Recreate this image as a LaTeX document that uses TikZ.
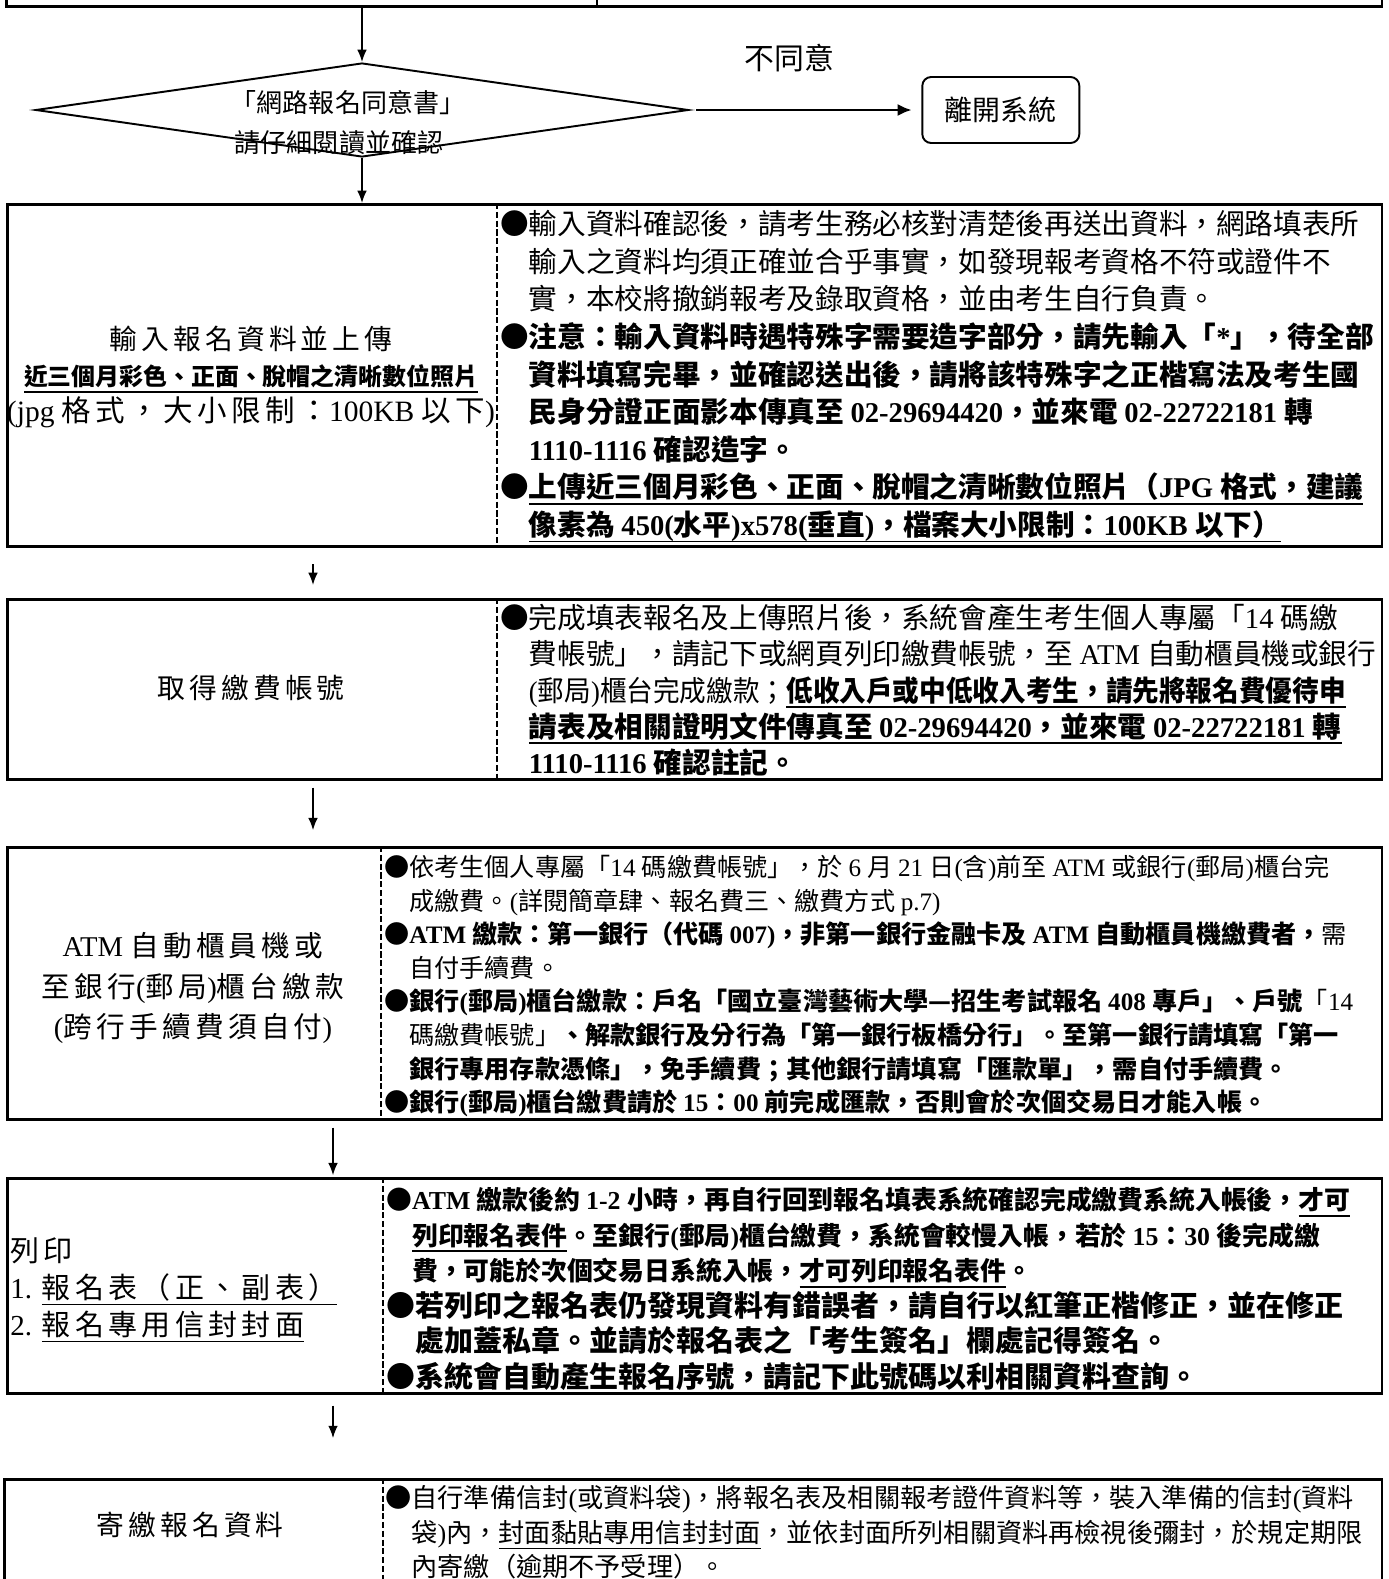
\documentclass[tikz,border=0pt]{standalone}
\usepackage{fontspec}
\usepackage{graphicx}
\setmainfont{Liberation Serif}
\newfontfamily\cjkplain{Noto Sans CJK TC}
\newfontfamily\cjkspaced[LetterSpace=15]{Noto Sans CJK TC}
\let\cjkfam\cjkplain
\usetikzlibrary{arrows.meta,positioning,shapes.geometric}
\newcount\cjkidx
\cjkidx="4E00
\loop\ifnum\cjkidx<"A000 \XeTeXcharclass\cjkidx=1 \advance\cjkidx by 1 \repeat
\cjkidx="3000
\loop\ifnum\cjkidx<"3040 \XeTeXcharclass\cjkidx=1 \advance\cjkidx by 1 \repeat
\cjkidx="FF00
\loop\ifnum\cjkidx<"FFF0 \XeTeXcharclass\cjkidx=1 \advance\cjkidx by 1 \repeat
\XeTeXcharclass"25CF=1
\XeTeXcharclass"2014=1
\XeTeXinterchartoks 0 1 = {\cjkfam}
\XeTeXinterchartoks 4095 1 = {\cjkfam}
\XeTeXinterchartoks 1 1 = {\cjkfam}
\XeTeXinterchartoks 1 0 = {\rmfamily}
\XeTeXinterchartoks 4095 0 = {\rmfamily}
\XeTeXinterchartokenstate=1
\newsavebox\ulbx
\newcommand\undl[2][1.1pt]{\sbox\ulbx{#2}\rlap{\rule[-4pt]{\wd\ulbx}{#1}}\usebox\ulbx}
\newcommand\fsz[2]{\fontsize{#1pt}{#2pt}\selectfont}

\begin{document}
\begin{tikzpicture}[x=0.02cm,y=-0.02cm,>={Latex[length=7pt,width=5.5pt]},
  box/.style={draw,line width=1.5pt,inner sep=0pt,anchor=north west,minimum width=27.5cm},
  divider/.style={line width=0.6pt,dash pattern=on 3.5pt off 1.5pt},
  flow/.style={->,line width=0.9pt},
  bigflow/.style={->,line width=1.6pt,>={Latex[length=8pt,width=7pt]}},
  decide/.style={diamond,draw,line width=1.1pt,minimum width=13.06cm,minimum height=1.88cm,inner sep=0pt,shape aspect=7},
  endbox/.style={draw,rounded corners=5pt,line width=1.1pt,minimum width=3.14cm,minimum height=1.32cm,font=\fsz{15.9}{20}},
  note/.style={anchor=north west,align=left,inner sep=0pt},
  lbl/.style={align=center,inner sep=0pt,font=\let\cjkfam\cjkspaced\fsz{15.8}{20.7}}]
  \useasboundingbox (0,0) rectangle (1389,1579);
  \clip (0,0) rectangle (1389,1579);
  \coordinate (ax) at (313,0);
  \coordinate (bx) at (333,0);

  \node[box,anchor=south west,minimum width=27.52cm,minimum height=2cm] (apply) at (5,8) {};
  \draw[line width=0.6pt] (597,-100) -- (597,8);

  \node[decide] (agree) at (362,110) {};
  \node[font=\fsz{14.8}{20},inner sep=0pt] (agreeA) at (348,103) {「網路報名同意書」};
  \node[font=\fsz{14.8}{20},inner sep=0pt] (agreeB) at (339,143) {請仔細閱讀並確認};
  \node[endbox,right=4.64cm of agree] (exit) {離開系統};
  \draw[flow] (apply.south -| agree.north) -- (agree.north);
  \draw[bigflow,shorten <=4pt,shorten >=5.5pt] (agree) -- node[pos=0.43,above=0.62cm,font=\fsz{17}{20}] (refuse) {不同意} (exit);

  \node[box,minimum height=6.84cm] (inb) at (6,203) {};
  \draw[flow] (agree.south) -- (inb.north -| agree.south);
  \draw[divider] (497,203) -- (497,545);
  \node[lbl] (inbL) at (251,377) {輸入報名資料並上傳\\{\let\cjkfam\cjkplain\bfseries\fsz{13.6}{20.7}\undl{近三個月彩色、正面、脫帽之清晰數位照片}}\\{\fsz{16.8}{20.7}(jpg 格式，大小限制：100KB 以下)}};
  \node[note,font=\fsz{16.3}{21.4}] (inbR) at (500,210) {●輸入資料確認後，請考生務必核對清楚後再送出資料，網路填表所\\
    \quad 輸入之資料均須正確並合乎事實，如發現報考資格不符或證件不\\
    \quad 實，本校將撤銷報考及錄取資格，並由考生自行負責。\\
    ●\textbf{注意：輸入資料時遇特殊字需要造字部分，請先輸入「*」，待全部}\\
    \quad\textbf{資料填寫完畢，並確認送出後，請將該特殊字之正楷寫法及考生國}\\
    \quad\textbf{民身分證正面影本傳真至 02-29694420，並來電 02-22722181 轉}\\
    \quad\textbf{1110-1116 確認造字。}\\
    ●\undl{\textbf{上傳近三個月彩色、正面、脫帽之清晰數位照片（JPG 格式，建議}}\\
    \quad\undl{\textbf{像素為 450(水平)x578(垂直)，檔案大小限制：100KB 以下）}}};

  \node[box,minimum height=3.6cm] (fee) at (6,598) {};
  \draw[flow,shorten <=9.5pt,shorten >=7.4pt] (inb.south -| ax) -- (fee.north -| ax);
  \draw[divider] (497,598) -- (497,778);
  \node[lbl] (feeL) at (251,688) {取得繳費帳號};
  \node[note,font=\fsz{16.3}{20.6}] (feeR) at (500,604) {●完成填表報名及上傳照片後，系統會產生考生個人專屬「14 碼繳\\
    \quad 費帳號」，請記下或網頁列印繳費帳號，至 ATM 自動櫃員機或銀行\\
    \quad\scalebox{0.93}[1]{(郵局)櫃台完成繳款；\undl{\textbf{低收入戶或中低收入考生，請先將報名費優待申}}}\\
    \quad\undl{\textbf{請表及相關證明文件傳真至 02-29694420，並來電 02-22722181 轉}}\\
    \quad\undl{\textbf{1110-1116 確認註記。}}};

  \node[box,minimum height=5.44cm] (pay) at (6,846) {};
  \draw[flow,shorten <=4pt,shorten >=9pt] (fee.south -| ax) -- (pay.north -| ax);
  \draw[divider] (381,846) -- (381,1118);
  \node[lbl,font=\let\cjkfam\cjkspaced\fsz{16.3}{23.2}] (payL) at (193,988) {ATM 自動櫃員機或\\至銀行(郵局)櫃台繳款\\(跨行手續費須自付)};
  \node[note,font=\fsz{14.3}{19.1}] (payR) at (384,855) {●依考生個人專屬「14 碼繳費帳號」，於 6 月 21 日(含)前至 ATM 或銀行(郵局)櫃台完\\
    \quad 成繳費。(詳閱簡章肆、報名費三、繳費方式 p.7)\\
    ●\textbf{ATM 繳款：第一銀行（代碼 007)，非第一銀行金融卡及 ATM 自動櫃員機繳費者，}需\\
    \quad 自付手續費。\\
    ●\textbf{銀行(郵局)櫃台繳款：戶名「國立臺灣藝術大學—招生考試報名 408 專戶」、戶號}「14\\
    \quad 碼繳費帳號」\textbf{、解款銀行及分行為「第一銀行板橋分行」。至第一銀行請填寫「第一}\\
    \quad\textbf{銀行專用存款憑條」，免手續費；其他銀行請填寫「匯款單」，需自付手續費。}\\
    ●\textbf{銀行(郵局)櫃台繳費請於 15：00 前完成匯款，否則會於次個交易日才能入帳。}};

  \node[box,minimum height=4.3cm] (print) at (6,1177) {};
  \draw[flow,shorten <=4pt,shorten >=1pt] (pay.south -| bx) -- (print.north -| bx);
  \draw[divider] (383,1177) -- (383,1392);
  \node[lbl,anchor=west,align=left,font=\let\cjkfam\cjkspaced\fsz{16.5}{21}] (printL) at (10,1290) {列印\\1. \undl[0.7pt]{報名表（正、副表）}\\2. \undl[0.7pt]{報名專用信封封面}};
  \node[note,font=\fsz{14.7}{20.1}] (printA) at (386,1187) {●\textbf{ATM 繳款後約 1-2 小時，再自行回到報名填表系統確認完成繳費系統入帳後，}\undl{\textbf{才可}}\\
    \quad\undl{\textbf{列印報名表件}}\textbf{。至銀行(郵局)櫃台繳費，系統會較慢入帳，若於 15：30 後完成繳}\\
    \quad\textbf{費，可能於次個交易日系統入帳，}\undl{\textbf{才可列印報名表件}}\textbf{。}};
  \node[note,font=\fsz{16.5}{20.1}] (printB) at (386,1291) {●\textbf{若列印之報名表仍發現資料有錯誤者，請自行以紅筆正楷修正，並在修正}\\
    \quad\textbf{處加蓋私章。並請於報名表之「考生簽名」欄處記得簽名。}\\
    ●\textbf{系統會自動產生報名序號，請記下此號碼以利相關資料查詢。}};

  \node[box,minimum width=27.56cm,minimum height=3cm] (mail) at (3,1478) {};
  \draw[flow,shorten <=6.2pt,shorten >=22.7pt] (print.south -| bx) -- (mail.north -| bx);
  \draw[divider] (383,1478) -- (383,1600);
  \node[lbl] (mailL) at (190,1525) {寄繳報名資料};
  \node[note,font=\fsz{14.9}{19.6}] (mailR) at (385,1485) {●自行準備信封(或資料袋)，將報名表及相關報考證件資料等，裝入準備的信封(資料\\
    \quad 袋)內，\undl[0.7pt]{封面黏貼專用信封封面}，並依封面所列相關資料再檢視後彌封，於規定期限\\
    \quad 內寄繳（逾期不予受理）。};
\end{tikzpicture}
\end{document}
